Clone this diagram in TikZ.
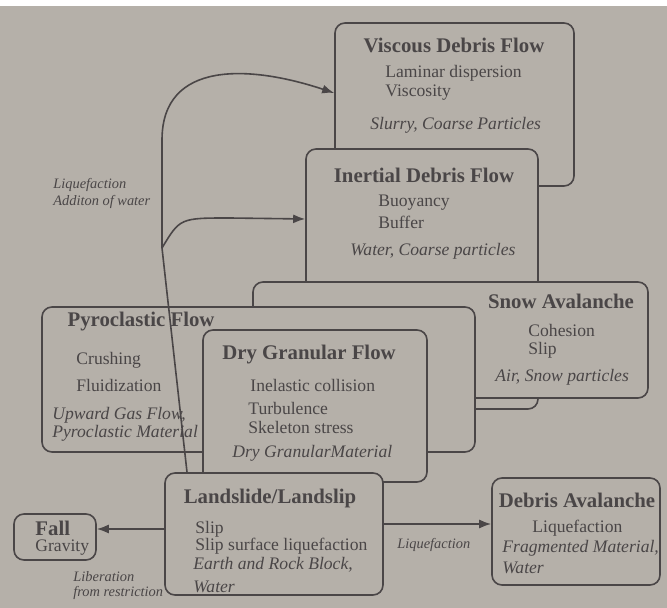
\documentclass[tikz,border=0pt]{standalone}
\usepackage{fontspec}
\setmainfont{Liberation Serif}
\usetikzlibrary{arrows.meta}
\definecolor{paper}{RGB}{181,176,169}
\definecolor{ink}{RGB}{74,70,71}
\tikzset{
  kind/.style   = {rectangle, rounded corners=5pt, draw=ink, line width=0.8pt, fill=paper, inner sep=0},
  ttl/.style    = {font=\fontsize{10.4}{12}\selectfont\bfseries, text=ink, inner sep=0},
  prop/.style   = {font=\fontsize{8.8}{10}\selectfont, text=ink, anchor=west, inner sep=0},
  medium/.style = {prop, font=\fontsize{8.8}{10}\selectfont\itshape},
  why/.style    = {font=\fontsize{7.2}{8}\selectfont\itshape, text=ink, anchor=west, inner sep=0},
  flow/.style   = {draw=ink, line width=0.8pt, -{Latex[length=6pt,width=4.5pt]}}
}
\begin{document}
\begin{tikzpicture}[x=0.5pt, y=-0.5pt]
  \useasboundingbox (0,0) rectangle (667,608);
  \fill[paper] (0,0) rectangle (667,608); \fill[white] (0,0) rectangle (667,6);

  \node[kind, minimum width=119.5pt, minimum height=81.5pt] (visc) at (454.5,104.5) {};
  \node[ttl] (visc-t) at (454,45) {Viscous Debris Flow};
  \node[prop] (visc-a) at (385,73) {Laminar dispersion};
  \node[prop] (visc-b) at (385,93) {Viscosity};
  \node[medium] (visc-m) at (370,125) {Slurry, Coarse Particles};

  \node[kind, minimum width=116pt, minimum height=130pt] (inert) at (422,279) {};
  \node[ttl] (inert-t) at (424,175) {Inertial Debris Flow};
  \node[prop] (inert-a) at (378,203) {Buoyancy};
  \node[prop] (inert-b) at (378,222) {Buffer};
  \node[medium] (inert-m) at (350,251) {Water, Coarse particles};

  \node[kind, minimum width=197.5pt, minimum height=58pt] (snow) at (450.5,340) {};
  \node[ttl] (snow-t) at (561,301) {Snow Avalanche};
  \node[prop] (snow-a) at (528,330) {Cohesion};
  \node[prop] (snow-b) at (528,350) {Slip};
  \node[medium] (snow-m) at (495,377) {Air, Snow particles};

  \node[kind, minimum width=216.5pt, minimum height=72.5pt] (pyro) at (258.5,379.5) {};
  \node[ttl] (pyro-t) at (141,322) {Pyroclastic Flow};
  \node[prop] (pyro-a) at (76,360) {Crushing};
  \node[prop] (pyro-b) at (76,385) {Fluidization};
  \node[medium] (pyro-m) at (52,415) {Upward Gas Flow,};
  \node[medium] (pyro-n) at (52,433) {Pyroclastic Material};

  \node[kind, minimum width=112pt, minimum height=76pt] (dry) at (315,406) {};
  \node[ttl] (dry-t) at (309,355) {Dry Granular Flow};
  \node[prop] (dry-a) at (250,385) {Inelastic collision};
  \node[prop] (dry-b) at (248,408) {Turbulence};
  \node[prop] (dry-c) at (248,427) {Skeleton stress};
  \node[medium] (dry-m) at (232,453) {Dry GranularMaterial};

  \node[kind, minimum width=109pt, minimum height=61pt] (land) at (274,534) {};
  \node[ttl] (land-t) at (270,498) {Landslide/Landslip};
  \node[prop] (land-a) at (195,529) {Slip};
  \node[prop] (land-b) at (195,546) {Slip surface liquefaction};
  \node[medium] (land-m) at (193,565) {Earth and Rock Block,};
  \node[medium] (land-n) at (193,587) {Water};

  \node[kind, minimum width=41pt, minimum height=23pt] (fall) at (55,537) {};
  \node[ttl, anchor=west] (fall-t) at (35,528) {Fall};
  \node[prop] (fall-a) at (35,548) {Gravity};

  \node[kind, minimum width=84pt, minimum height=53.5pt] (debav) at (576,531.5) {};
  \node[ttl] (debav-t) at (577,500) {Debris Avalanche};
  \node[prop] (debav-a) at (532,528) {Liquefaction};
  \node[medium] (debav-m) at (502,548) {Fragmented Material,};
  \node[medium] (debav-n) at (502,568) {Water};

  \coordinate (fork) at (162,248);
  \draw[flow] ([xshift=-43.5pt]land.north) -- (fork) -- (162,140) .. controls (162,60) and (250,65) .. ([yshift=5.75pt]visc.west);
  \draw[flow] (fork) .. controls (180,218) .. (230,218) -- ([yshift=30pt]inert.west);
  \draw[flow] ([yshift=2.5pt]land.west) -- ([yshift=4pt]fall.east);
  \draw[flow] ([yshift=5pt]land.east) -- ([yshift=3.75pt]debav.west);

  \node[why] (w-liq) at (53,185) {Liquefaction};
  \node[why] (w-add) at (53,202) {Additon of water};
  \node[why] (w-lib) at (73,577) {Liberation};
  \node[why] (w-res) at (73,593) {from restriction};
  \node[why] (w-deb) at (397,545) {Liquefaction};
\end{tikzpicture}
\end{document}
